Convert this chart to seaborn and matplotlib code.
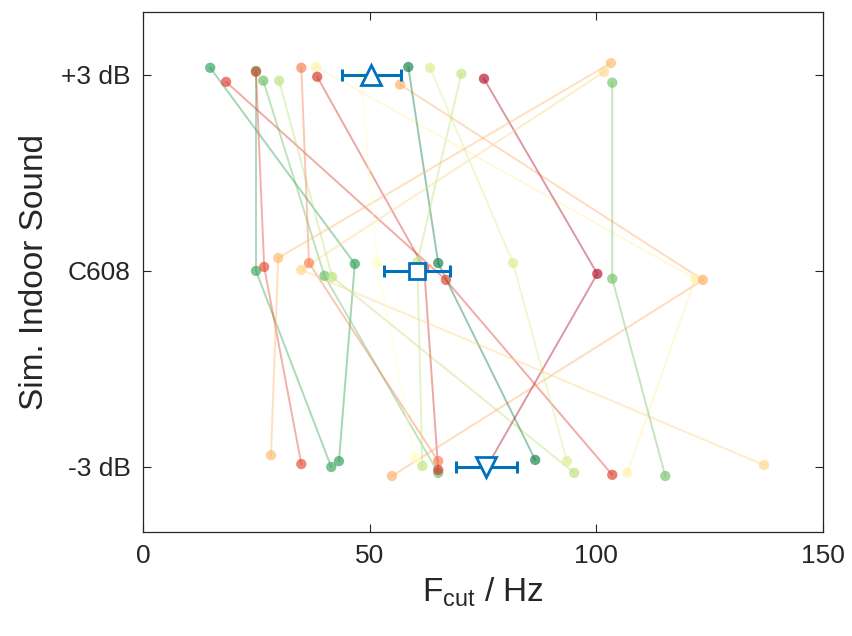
import numpy as np
import pandas as pd
import matplotlib
matplotlib.use("Agg")
import matplotlib.pyplot as plt
import seaborn as sns

# ---- data ----
levels = ["+3 dB", "C608", "-3 dB"]
level_pos = [2, 1, 0]

fcut_plus3 = [14.8, 18.3, 24.9, 24.9, 26.5, 30.0, 34.9, 38.2, 38.4, 56.7, 58.5, 63.3, 70.2, 75.2, 103.2, 101.7, 103.5, 48.0]
fcut_c608 = [46.7, 66.8, 24.9, 26.7, 40.0, 41.7, 36.6, 121.8, 62.0, 123.5, 65.1, 81.6, 60.5, 100.2, 29.8, 34.9, 103.5, 51.6]
fcut_minus3 = [43.2, 103.5, 41.5, 34.9, 65.1, 95.1, 65.1, 106.8, 65.1, 54.9, 86.5, 93.5, 61.6, 75.8, 28.2, 137.0, 115.2, 60.0]

# small vertical offsets of each subject's dots (category units)
jit_plus3 = [0.036, -0.036, 0.02, 0.015, -0.03, -0.03, 0.036, 0.04, -0.01, -0.05, 0.04, 0.036, 0.005, -0.02, 0.06, 0.015, -0.04, 0.0]
jit_c608 = [0.036, -0.046, 0.0, 0.02, -0.025, -0.03, 0.04, -0.04, 0.015, -0.046, 0.04, 0.04, 0.045, -0.015, 0.066, 0.005, -0.04, 0.045]
jit_minus3 = [0.03, -0.04, 0.0, 0.015, -0.03, -0.03, 0.03, -0.03, -0.015, -0.046, 0.036, 0.03, 0.005, 0.0, 0.06, 0.01, -0.046, 0.046]

# colour position of each subject on the RdYlGn scale
subject_score = [0.88, 0.12, 0.86, 0.14, 0.8, 0.66, 0.22, 0.45, 0.1, 0.3, 0.96, 0.6, 0.65, 0.02, 0.32, 0.38, 0.78, 0.5]

mean_fcut = [50.3, 60.4, 75.7]
err_fcut = [6.5, 7.3, 6.7]
mean_markers = ["^", "s", "v"]

# ---- build long table ----
rows = []
for s in range(len(fcut_plus3)):
    for lv, vals, jit in zip(level_pos, [fcut_plus3, fcut_c608, fcut_minus3],
                             [jit_plus3, jit_c608, jit_minus3]):
        rows.append({"subject": s, "fcut": vals[s], "y": lv + jit[s]})
df = pd.DataFrame(rows)

cmap = plt.get_cmap("RdYlGn")
palette = {s: cmap(v) for s, v in enumerate(subject_score)}

sns.set_style("white")
plt.rcParams["font.family"] = ["Liberation Sans", "DejaVu Sans"]
plt.rcParams["mathtext.default"] = "regular"

fig = plt.figure(figsize=(8.52, 6.36), dpi=100)
ax = fig.add_axes([0.168, 0.164, 0.798, 0.817])

sns.lineplot(data=df, x="fcut", y="y", hue="subject", palette=palette,
             units="subject", estimator=None, sort=False, legend=False,
             lw=1.4, alpha=0.42, ax=ax)
sns.scatterplot(data=df, x="fcut", y="y", hue="subject", palette=palette,
                s=55, alpha=0.65, edgecolor="none", legend=False, ax=ax, zorder=3)

blue = "#0072BD"
ax.errorbar(mean_fcut, level_pos, xerr=err_fcut, fmt="none", ecolor=blue,
            elinewidth=2.2, capsize=4.5, capthick=2.2, zorder=4)
for m, x, y in zip(mean_markers, mean_fcut, level_pos):
    ax.plot([x], [y], marker=m, ms=(11 if m == "s" else 14), mfc="white",
            mec=blue, mew=2.0, ls="none", zorder=5)

ax.set_xlim(0, 150)
ax.set_ylim(-0.33, 2.32)
ax.set_xticks([0, 50, 100, 150])
ax.set_yticks(level_pos)
ax.set_yticklabels(levels)
ax.set_xlabel(r"F$_{cut}$ / Hz", fontsize=24, color="#262626", labelpad=5)
ax.set_ylabel("Sim. Indoor Sound", fontsize=24, color="#262626", labelpad=8)
ax.tick_params(axis="both", direction="in", length=6, width=0.8,
               labelsize=19, colors="#262626", top=True, right=True,
               bottom=True, left=True, pad=9)
for sp in ax.spines.values():
    sp.set_visible(True)
    sp.set_color("#262626")
    sp.set_linewidth(0.9)

fig.savefig("out.png", dpi=100)
